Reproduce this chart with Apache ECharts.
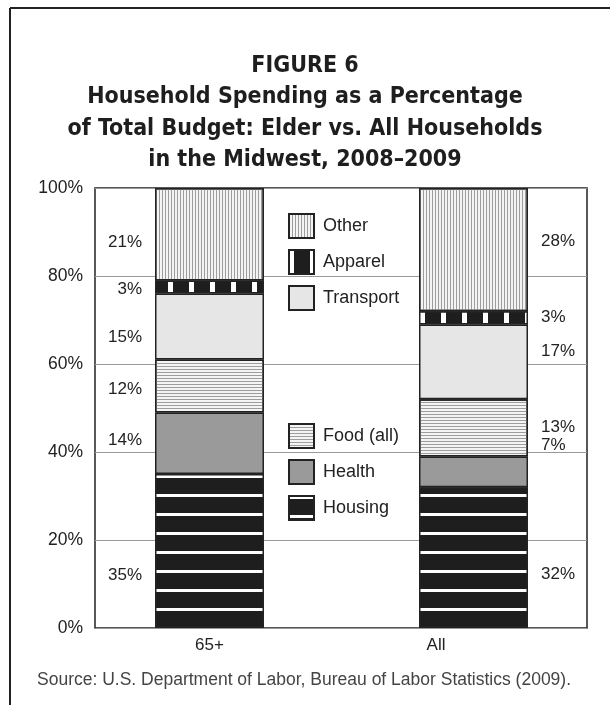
<!DOCTYPE html>
<html>
<head>
<meta charset="utf-8">
<script src="https://cdn.jsdelivr.net/npm/echarts@6/dist/echarts.min.js"></script>
<style>
  html, body { margin: 0; padding: 0; background: #fff; }
  #chart { width: 610px; height: 705px; }
</style>
</head>
<body>
<div id="chart"></div>
<script>
// ---- data ----
const categories = ['65+', 'All'];
const seriesNames = ['Housing', 'Health', 'Food (all)', 'Transport', 'Apparel', 'Other'];
const housing   = [35, 32];
const health    = [14, 7];
const food      = [12, 13];
const transport = [15, 17];
const apparel   = [3, 3];
const other     = [21, 28];
const yTicks    = [0, 20, 40, 60, 80, 100];
const titleLines = ['FIGURE 6', 'Household Spending as a Percentage', 'of Total Budget: Elder vs. All Households', 'in the Midwest, 2008\u20132009'];
const sourceText = 'Source: U.S. Department of Labor, Bureau of Labor Statistics (2009).';

const values = [housing, health, food, transport, apparel, other];

// ---- styles ----
const DARK = '#1e1e1e';
const styles = {
  'Housing':    { color: DARK, decal: { symbol: 'rect', symbolSize: 1, color: '#ffffff', dashArrayX: [1, 0], dashArrayY: [3, 16] } },
  'Health':     { color: '#9a9a9a' },
  'Food (all)': { color: '#f4f4f4', decal: { symbol: 'rect', symbolSize: 1, color: '#9d9d9d', dashArrayX: [1, 0], dashArrayY: [1, 2] } },
  'Transport':  { color: '#e6e6e6' },
  'Apparel':    { color: DARK, decal: { symbol: 'rect', symbolSize: 1, color: '#ffffff', dashArrayX: [5, 16], dashArrayY: [1, 0] } },
  'Other':      { color: '#f4f4f4', decal: { symbol: 'rect', symbolSize: 1, color: '#9d9d9d', dashArrayX: [1, 2], dashArrayY: [1, 0] } }
};
// label nudges (px) for [65+, All]
const labelNudge = {
  'Housing': [24, 17], 'Health': [-3, -26], 'Food (all)': [3, 0],
  'Transport': [11, -10], 'Apparel': [2, 0], 'Other': [8, -8]
};

const FONT = "'Liberation Sans', Arial, sans-serif";
const TITLE_FONT = "'Liberation Sans Narrow', 'DejaVu Sans Condensed', sans-serif";

const series = seriesNames.map((name, si) => ({
  name: name,
  type: 'bar',
  stack: 'total',
  xAxisIndex: 1,
  yAxisIndex: 1,
  barWidth: 109,
  itemStyle: Object.assign({ borderColor: '#222', borderWidth: 1.5 }, styles[name]),
  label: {
    show: true,
    formatter: '{c}%',
    distance: 13,
    fontFamily: FONT,
    fontSize: 17,
    color: '#222'
  },
  emphasis: { disabled: true },
  data: values[si].map((v, ci) => ({
    value: v,
    label: {
      position: ci === 0 ? 'left' : 'right',
      offset: [0, labelNudge[name][ci]]
    }
  }))
}));

const legendCommon = {
  orient: 'vertical', left: 288, padding: 0,
  itemWidth: 25, itemHeight: 24, itemGap: 10,
  icon: 'rect',
  selectedMode: false,
  textStyle: { fontFamily: FONT, fontSize: 18, color: '#222', padding: [0, 0, 0, 4] }
};

const chart = echarts.init(document.getElementById('chart'), null, { renderer: 'canvas' });
chart.setOption({
  animation: false,
  backgroundColor: '#ffffff',
  title: [
    {
      text: titleLines.join('\n'),
      left: 'center',
      top: 50,
      padding: 0,
      textStyle: { fontFamily: TITLE_FONT, fontWeight: 'bold', fontSize: 23, lineHeight: 31.5, color: '#1e1e1e' }
    },
    {
      text: sourceText,
      left: 37,
      top: 671,
      padding: 0,
      textStyle: { fontFamily: FONT, fontWeight: 'normal', fontSize: 17.5, color: '#444' }
    }
  ],
  legend: [
    Object.assign({ data: ['Other', 'Apparel', 'Transport'], top: 213 }, legendCommon),
    Object.assign({ data: ['Food (all)', 'Health', 'Housing'], top: 423 }, legendCommon)
  ],
  grid: [
    { left: 95, right: 23, top: 188, bottom: 77, show: true, borderColor: '#222', borderWidth: 1.5, backgroundColor: 'transparent', z: 0 },
    { left: 77.5, right: 4.5, top: 188, bottom: 77 }
  ],
  xAxis: [
    { gridIndex: 0, type: 'category', data: categories, axisLine: { show: false }, axisTick: { show: false }, axisLabel: { show: false } },
    {
      gridIndex: 1, type: 'category',
      data: categories.map((c, i) => i === 1 ? { value: c, textStyle: { padding: [0, 75, 0, 0] } } : c),
      axisLine: { show: false }, axisTick: { show: false },
      axisLabel: { fontFamily: FONT, fontSize: 17, color: '#222', margin: 9 }
    }
  ],
  yAxis: [
    {
      gridIndex: 0, type: 'value', min: yTicks[0], max: yTicks[yTicks.length - 1], interval: yTicks[1] - yTicks[0],
      axisLine: { show: false }, axisTick: { show: false },
      axisLabel: { formatter: '{value}%', fontFamily: FONT, fontSize: 17.5, color: '#222', margin: 12 },
      splitLine: { lineStyle: { color: '#999', width: 1 } }
    },
    { gridIndex: 1, type: 'value', min: 0, max: 100, show: false, splitLine: { show: false } }
  ],
  graphic: [
    { type: 'line', shape: { x1: 10, y1: 8, x2: 610, y2: 8 }, style: { stroke: '#222', lineWidth: 2 } },
    { type: 'line', shape: { x1: 10, y1: 8, x2: 10, y2: 705 }, style: { stroke: '#222', lineWidth: 2 } }
  ],
  series: series
});
</script>
</body>
</html>
